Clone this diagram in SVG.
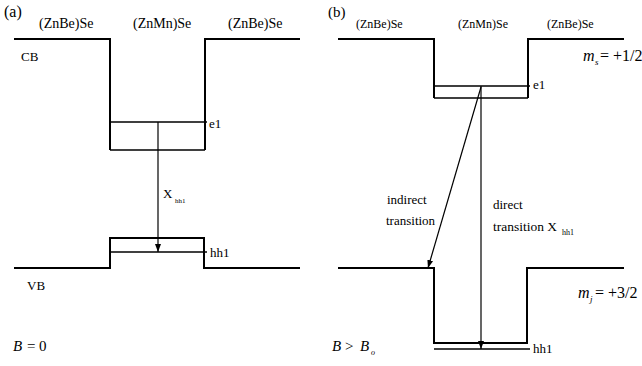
<svg xmlns="http://www.w3.org/2000/svg" width="642" height="366" viewBox="0 0 642 366" font-family="'Liberation Serif', 'Times New Roman', 'DejaVu Serif', serif">
<defs>
<style>
text{font-family:'Liberation Serif','Times New Roman','DejaVu Serif',serif;fill:#000}
.hdrA{font-size:14px}
.hdrB{font-size:12px}
.lbl{font-size:13px}
.sub{font-size:7px}
.big{font-size:16px}
.mid{font-size:15px}
.it{font-style:italic}
.band{fill:none;stroke:#000;stroke-width:2;stroke-linejoin:miter}
.lvl{fill:none;stroke:#000;stroke-width:1.5}
.tr{fill:none;stroke:#000;stroke-width:1.2}
</style>
<marker id="ah" viewBox="0 0 8 6" refX="8" refY="3" markerWidth="8" markerHeight="6" markerUnits="userSpaceOnUse" orient="auto">
<path d="M0,0 L8,3 L0,6 z" fill="#000"/>
</marker>
</defs>
<rect width="642" height="366" fill="#fff"/>

<!-- Panel (a) -->
<g id="panelA-labels">
<text x="4" y="17" style="font-size:16px">(a)</text>
<text x="39" y="28" class="hdrA">(ZnBe)Se</text>
<text x="133" y="28" class="hdrA">(ZnMn)Se</text>
<text x="228" y="28" class="hdrA">(ZnBe)Se</text>
<text x="21" y="61" class="lbl">CB</text>
<text x="27" y="290" class="lbl">VB</text>
<text x="13" y="351" class="mid it">B</text>
<text x="27" y="351" class="mid">=</text>
<text x="39" y="351" class="mid">0</text>
</g>
<g id="a-cb">
<path class="band" d="M14,39 H110 V150 M205,150 V39 H300"/>
</g>
<g id="a-e1">
<path class="lvl" d="M110,122 H207 M110,150 H205"/>
<text x="209" y="128" class="lbl">e1</text>
</g>
<g id="a-vb">
<path class="band" d="M14,268 H110 V238 H204 V268 H300"/>
</g>
<g id="a-hh1">
<path class="lvl" d="M110,252 H207"/>
<text x="210" y="257" class="lbl">hh1</text>
</g>

<!-- Panel (b) -->
<g id="panelB-labels">
<text x="328" y="17" style="font-size:15px">(b)</text>
<text x="356" y="28" class="hdrB">(ZnBe)Se</text>
<text x="458" y="28" class="hdrB">(ZnMn)Se</text>
<text x="547" y="28" class="hdrB">(ZnBe)Se</text>
<text x="332" y="351" class="mid it">B</text>
<text x="345" y="351" class="mid">&gt;</text>
<text x="360" y="351" class="mid it">B</text>
<text x="371" y="355" class="it" style="font-size:8px">o</text>
</g>
<g id="b-cb">
<path class="band" d="M338,39 H434 V98 M528,98 V39 H624"/>
<text x="583" y="61" class="big it">m</text>
<text x="595" y="65" class="it" style="font-size:9px">s</text>
<text x="600" y="61" class="big">= +1/2</text>
</g>
<g id="b-e1">
<path class="lvl" d="M434,86 H530 M434,98 H528"/>
<text x="533" y="89" class="lbl">e1</text>
</g>
<g id="b-vb">
<path class="band" d="M338,268 H434 V343 H527 V268 H624"/>
<text x="578" y="298" class="big it">m</text>
<text x="590" y="302" class="it" style="font-size:9px">j</text>
<text x="595" y="298" class="big">= +3/2</text>
</g>
<g id="b-hh1">
<path class="lvl" d="M434,349 H530"/>
<text x="533" y="353" class="lbl">hh1</text>
</g>

<!-- Connectors -->
<g id="connectors">
<line class="tr" x1="158" y1="122" x2="158" y2="252" marker-end="url(#ah)"/>
<line class="tr" x1="481" y1="86" x2="481" y2="349" marker-end="url(#ah)"/>
<line class="tr" x1="481" y1="87" x2="428" y2="268" marker-end="url(#ah)"/>
</g>
<g id="connector-labels">
<text x="163" y="198" class="lbl">X</text>
<text x="175" y="203" class="sub">hh1</text>
<text x="387" y="204" class="lbl">indirect</text>
<text x="386" y="225" class="lbl">transition</text>
<text x="493" y="209" class="lbl">direct</text>
<text x="493" y="231" style="font-size:13.5px">transition X</text>
<text x="562" y="235" style="font-size:8px">hh1</text>
</g>
</svg>
